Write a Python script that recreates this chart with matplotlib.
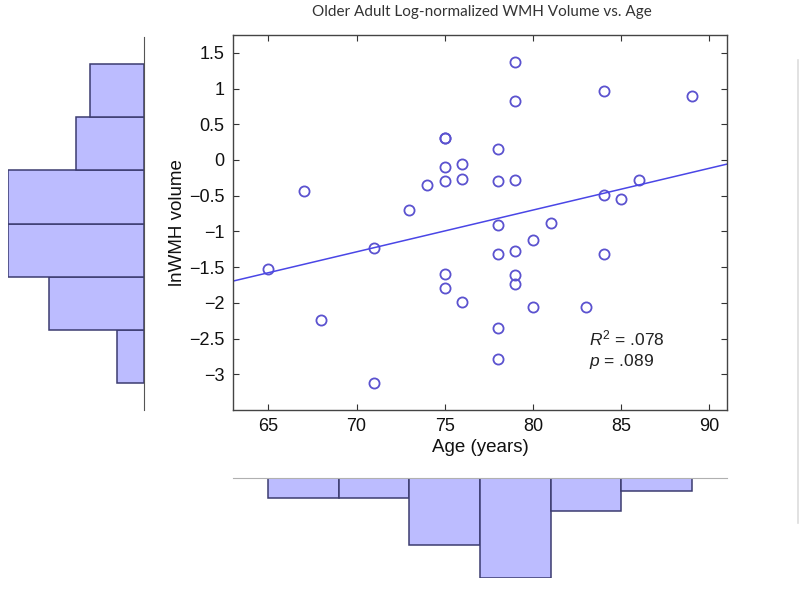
import matplotlib
matplotlib.use("Agg")
import matplotlib.pyplot as plt
from matplotlib.lines import Line2D
import numpy as np

plt.rcParams['font.family'] = ['Liberation Sans', 'DejaVu Sans']
plt.rcParams['mathtext.fontset'] = 'custom'
plt.rcParams['mathtext.rm'] = 'Liberation Sans'
plt.rcParams['mathtext.it'] = 'Liberation Sans:italic'

# data
age = [65, 67, 68, 71, 71, 73, 74, 75, 75, 75, 75, 75, 75, 76, 76, 76,
       78, 78, 78, 78, 78, 78, 79, 79, 79, 79, 79, 79, 80, 80, 81, 83,
       84, 84, 84, 85, 86, 89]
wmh = [-1.53, -0.44, -2.24, -1.23, -3.12, -0.70, -0.35, 0.31, 0.31, -0.10,
       -0.30, -1.59, -1.79, -0.05, -0.26, -1.99, 0.15, -0.30, -0.91, -1.32,
       -2.35, -2.78, 1.37, 0.83, -0.28, -1.27, -1.61, -1.74, -1.12, -2.06,
       -0.88, -2.06, 0.96, -0.49, -1.32, -0.55, -0.28, 0.89]

# marginal histogram counts (6 bins each)
age_counts = [3, 3, 10, 15, 5, 2]
wmh_counts = [2, 7, 10, 10, 5, 4]

r2_text = r'$R^2$ = .078'
p_text = r'$p$ = .089'
title = 'Older Adult Log-normalized WMH Volume vs. Age'

pt_col = '#5b52cf'
line_col = '#4a46e6'
bar_face = '#bcbcff'
bar_edge = '#3c3c70'

W, H = 800, 591
fig = plt.figure(figsize=(8, 5.91), dpi=100)

def box(x0, y0, x1, y1):
    # pixel box -> figure coords
    return [x0 / W, 1 - y1 / H, (x1 - x0) / W, (y1 - y0) / H]

# ---- scatter
ax = fig.add_axes(box(233, 35, 727, 410))
ax.plot(age, wmh, 'o', ms=7.3, mfc='none', mec=pt_col, mew=1.3)
k, b = np.polyfit(age, wmh, 1)
xs = np.array([63, 91])
ax.plot(xs, k * xs + b, color=line_col, lw=1.1)
ax.set_xlim(63, 91)
ax.set_ylim(-3.5, 1.75)
ax.set_xticks([65, 70, 75, 80, 85, 90])
ax.set_yticks([-3, -2.5, -2, -1.5, -1, -0.5, 0, 0.5, 1, 1.5])
ax.set_yticklabels(['\u22123', '\u22122.5', '\u22122', '\u22121.5', '\u22121',
                    '\u22120.5', '0', '0.5', '1', '1.5'])
ax.tick_params(direction='in', top=True, right=True, length=4,
               labelsize=13, colors='#333333', labelcolor='#111111', pad=6)
for s in ax.spines.values():
    s.set_color('#444444')
    s.set_linewidth(1.0)
ax.set_xlabel('Age (years)', fontsize=13.5, color='#111111', labelpad=3)
ax.set_ylabel('lnWMH volume', fontsize=13.5, color='#111111', labelpad=2)
ax.text(0.72, 0.173, r2_text, transform=ax.transAxes, fontsize=12.5, color='#222222')
ax.text(0.72, 0.118, p_text, transform=ax.transAxes, fontsize=12.5, color='#222222',
        va='baseline')

fig.text(482 / W, 1 - 12 / H, title, ha='center', va='center', fontsize=11,
         family=['Lato', 'DejaVu Sans'], color='#333333')

# ---- left histogram (wmh)
axl = fig.add_axes(box(8.3, 37, 144, 410), sharey=ax)
e = np.linspace(min(wmh), max(wmh), len(wmh_counts) + 1)
axl.barh(e[:-1], wmh_counts, height=np.diff(e), align='edge',
         color=bar_face, edgecolor=bar_edge, lw=1.1)
axl.set_xlim(10, 0)
for n in ['left', 'top', 'bottom']:
    axl.spines[n].set_visible(False)
axl.spines['right'].set_color('#555555')
axl.tick_params(left=False, right=False, bottom=False, labelleft=False,
                labelbottom=False)
axl.set_facecolor('none')

# ---- bottom histogram (age)
axb = fig.add_axes(box(233, 477.7, 727, 578.3), sharex=ax)
e = np.linspace(min(age), max(age), len(age_counts) + 1)
axb.bar(e[:-1], age_counts, width=np.diff(e), align='edge',
        color=bar_face, edgecolor=bar_edge, lw=1.1)
axb.set_ylim(15, 0)
for n in ['left', 'right', 'bottom']:
    axb.spines[n].set_visible(False)
axb.spines['top'].set_color('#b0b0b0')
axb.tick_params(left=False, bottom=False, top=False, labelleft=False,
                labelbottom=False)
axb.set_facecolor('none')

# faint line at the right edge
fig.add_artist(Line2D([798 / W, 798 / W], [1 - 60 / H, 1 - 523 / H],
                      color='#dddddd', lw=1.2))

fig.savefig('out.png', dpi=100)
